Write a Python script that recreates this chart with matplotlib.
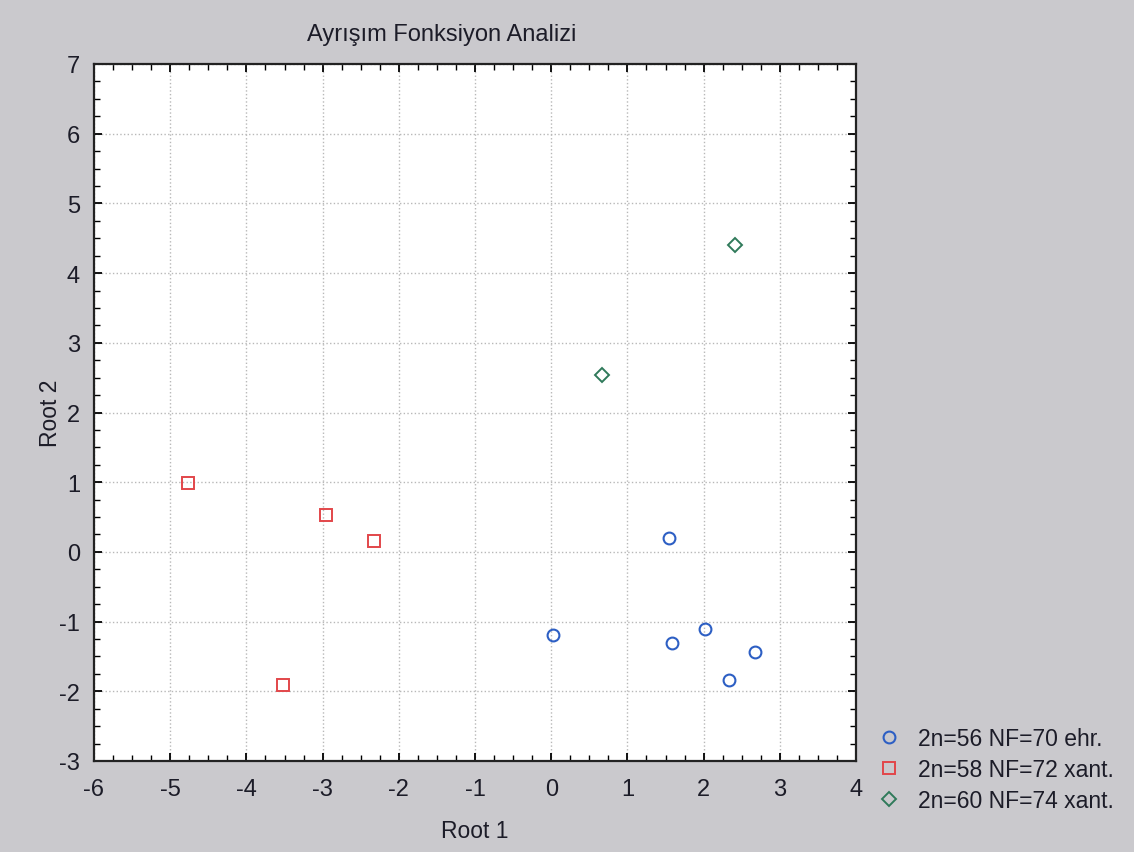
import matplotlib.pyplot as plt
from matplotlib.ticker import MultipleLocator

plt.rcParams['font.family'] = ['Liberation Sans', 'DejaVu Sans']
plt.rcParams['axes.unicode_minus'] = False

# Root 1 / Root 2 scores per group
g1_x = [0.03, 1.54, 1.58, 2.02, 2.33, 2.67]
g1_y = [-1.19, 0.20, -1.31, -1.11, -1.84, -1.44]
g2_x = [-4.76, -2.96, -2.32, -3.52]
g2_y = [0.99, 0.53, 0.16, -1.91]
g3_x = [0.67, 2.41]
g3_y = [2.54, 4.40]
labels = ["2n=56 NF=70 ehr.", "2n=58 NF=72 xant.", "2n=60 NF=74 xant."]

bg = '#cac9cd'
txt = '#1c1c28'
fig = plt.figure(figsize=(11.34, 8.53), dpi=100, facecolor=bg)
ax = fig.add_axes([94/1134, 1-762/853, (856-94)/1134, (762-65)/853])
ax.set_facecolor('white')

ax.plot(g1_x, g1_y, 'o', ms=8.5, mfc='none', mec='#2d5fc4', mew=1.5, label=labels[0])
ax.plot(g2_x, g2_y, 's', ms=9, mfc='none', mec='#e2464a', mew=1.4, label=labels[1])
ax.plot(g3_x, g3_y, 'D', ms=7, mfc='none', mec='#2f7a5a', mew=1.4, label=labels[2])

ax.set_xlim(-6, 4)
ax.set_ylim(-3, 7)
ax.xaxis.set_major_locator(MultipleLocator(1))
ax.yaxis.set_major_locator(MultipleLocator(1))
ax.xaxis.set_minor_locator(MultipleLocator(0.25))
ax.yaxis.set_minor_locator(MultipleLocator(0.25))
ax.tick_params(which='both', direction='in', top=True, right=True, labelsize=17, labelcolor=txt)
ax.tick_params(which='major', length=6, width=1.3)
ax.tick_params(axis='x', which='major', pad=12)
ax.tick_params(axis='y', which='major', pad=10)
ax.tick_params(which='minor', length=4, width=1.0)
ax.grid(True, which='major', ls=':', color='#b8b8b8', lw=1)
for s in ax.spines.values():
    s.set_linewidth(1.6)
    s.set_color('#222222')

ax.set_xlabel("Root 1", fontsize=16.5, labelpad=14, color=txt)
ax.set_ylabel("Root 2", fontsize=16.5, labelpad=-2, color=txt)
fig.text(442/1134, 1-35/853, "Ayrışım Fonksiyon Analizi", fontsize=17,
         ha='center', va='center', color=txt)

fig.legend(loc='lower left', bbox_to_anchor=(868/1134, 1-822/853),
           bbox_transform=fig.transFigure, frameon=False,
           fontsize=16.5, handletextpad=0.8, labelspacing=0.34, handlelength=1,
           labelcolor=txt, borderaxespad=0)

fig.savefig('out.png', dpi=100, facecolor=bg)
